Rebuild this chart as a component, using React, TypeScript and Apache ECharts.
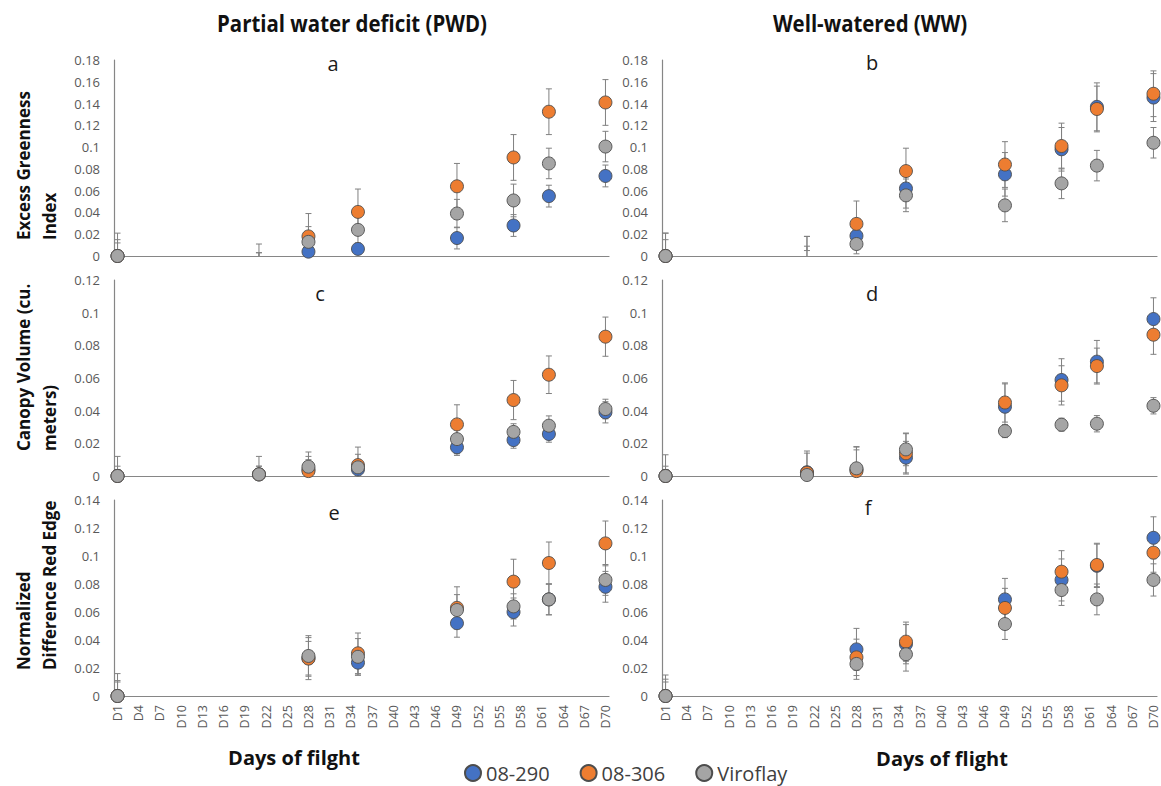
import React, { useEffect, useRef } from "react";
import * as echarts from "echarts";

// ---------- categories / ticks ----------
const dayCategories: string[] = Array.from({ length: 70 }, (_, i) => `D${i + 1}`);
const sampleDays = ["D1", "D21", "D28", "D35", "D49", "D57", "D62", "D70"];
const seriesNames = ["08-290", "08-306", "Viroflay"];
const seriesColors = ["#4472C4", "#ED7D31", "#A5A5A5"];

// ---------- panel a : PWD, Excess Greenness Index ----------
const aBlue = [0, 0.001, 0.004, 0.0065, 0.0165, 0.028, 0.055, 0.0735];
const aOrange = [0, 0.001, 0.018, 0.0405, 0.064, 0.0905, 0.1325, 0.141];
const aGray = [0, 0.001, 0.013, 0.024, 0.039, 0.051, 0.085, 0.1005];
const aBlueErr = [0.012, 0.002, 0.004, 0.005, 0.01, 0.01, 0.01, 0.01];
const aOrangeErr = [0.015, 0.002, 0.021, 0.021, 0.021, 0.021, 0.021, 0.021];
const aGrayErr = [0.021, 0.01, 0.014, 0.012, 0.013, 0.015, 0.014, 0.014];

// ---------- panel b : WW, Excess Greenness Index ----------
const bBlue = [0, 0.007, 0.0185, 0.062, 0.075, 0.098, 0.137, 0.1455];
const bOrange = [0, 0.007, 0.0295, 0.078, 0.084, 0.101, 0.135, 0.149];
const bGray = [0, 0.007, 0.011, 0.0557, 0.0465, 0.0667, 0.083, 0.104];
const bBlueErr = [0.015, 0.011, 0.012, 0.018, 0.02, 0.02, 0.022, 0.022];
const bOrangeErr = [0.021, 0.011, 0.021, 0.021, 0.021, 0.021, 0.021, 0.021];
const bGrayErr = [0.021, 0.002, 0.009, 0.015, 0.015, 0.014, 0.014, 0.014];

// ---------- panel c : PWD, Canopy Volume ----------
const cBlue = [0, 0.001, 0.004, 0.004, 0.0176, 0.022, 0.0257, 0.039];
const cOrange = [0, 0.001, 0.003, 0.0067, 0.0316, 0.0465, 0.062, 0.0853];
const cGray = [0, 0.001, 0.0057, 0.0053, 0.0226, 0.027, 0.0308, 0.041];
const cBlueErr = [0.012, 0.005, 0.006, 0.006, 0.005, 0.005, 0.005, 0.0065];
const cOrangeErr = [0.006, 0.005, 0.009, 0.011, 0.012, 0.012, 0.0115, 0.012];
const cGrayErr = [0.004, 0.011, 0.009, 0.008, 0.009, 0.005, 0.006, 0.006];

// ---------- panel d : WW, Canopy Volume ----------
const dBlue = [0, 0.0023, 0.004, 0.0112, 0.0424, 0.0588, 0.07, 0.0961];
const dOrange = [0, 0.002, 0.003, 0.0139, 0.045, 0.0555, 0.0673, 0.0865];
const dGray = [0, 0.0006, 0.0047, 0.0163, 0.0275, 0.0314, 0.032, 0.043];
const dBlueErr = [0.013, 0.013, 0.012, 0.01, 0.014, 0.013, 0.013, 0.013];
const dOrangeErr = [0.006, 0.012, 0.015, 0.012, 0.012, 0.012, 0.011, 0.012];
const dGrayErr = [0.004, 0.005, 0.013, 0.01, 0.004, 0.004, 0.005, 0.005];

// ---------- panel e : PWD, NDRE ----------
const eBlue = [0, null, 0.027, 0.0238, 0.052, 0.06, 0.069, 0.078];
const eOrange = [0, null, 0.0267, 0.0305, 0.063, 0.0817, 0.095, 0.109];
const eGray = [0, null, 0.0286, 0.028, 0.0614, 0.064, 0.069, 0.0829];
const eBlueErr = [0.016, null, 0.012, 0.009, 0.01, 0.01, 0.011, 0.011];
const eOrangeErr = [0.01, null, 0.015, 0.0145, 0.015, 0.016, 0.015, 0.016];
const eGrayErr = [0.011, null, 0.0145, 0.013, 0.011, 0.009, 0.011, 0.011];

// ---------- panel f : WW, NDRE ----------
const fBlue = [0, null, 0.0333, 0.037, 0.069, 0.0829, 0.093, 0.113];
const fOrange = [0, null, 0.0276, 0.0388, 0.0629, 0.0888, 0.0936, 0.1024];
const fGray = [0, null, 0.0229, 0.0298, 0.0514, 0.0757, 0.069, 0.0829];
const fBlueErr = [0.015, null, 0.015, 0.014, 0.015, 0.015, 0.0155, 0.015];
const fOrangeErr = [0.012, null, 0.013, 0.014, 0.014, 0.015, 0.0155, 0.014];
const fGrayErr = [0.01, null, 0.011, 0.012, 0.011, 0.011, 0.011, 0.0115];

const yMaxByRow = [0.18, 0.12, 0.14];
const panelLetters = ["a", "b", "c", "d", "e", "f"];
const hiddenMarkerDays: string[][] = [["D21"], ["D21"], [], [], [], []];

const panelValues = [
  [aBlue, aOrange, aGray],
  [bBlue, bOrange, bGray],
  [cBlue, cOrange, cGray],
  [dBlue, dOrange, dGray],
  [eBlue, eOrange, eGray],
  [fBlue, fOrange, fGray],
];
const panelErrors = [
  [aBlueErr, aOrangeErr, aGrayErr],
  [bBlueErr, bOrangeErr, bGrayErr],
  [cBlueErr, cOrangeErr, cGrayErr],
  [dBlueErr, dOrangeErr, dGrayErr],
  [eBlueErr, eOrangeErr, eGrayErr],
  [fBlueErr, fOrangeErr, fGrayErr],
];

// ---------- layout ----------
const rowTops = [60, 280, 500];
const rowHeight = 196;
const colLefts = [114, 662];
const colWidth = 495;
const FONT = "'Open Sans', 'Noto Sans', sans-serif";

export default function App() {
  const ref = useRef<HTMLDivElement>(null);

  useEffect(() => {
    if (!ref.current) return;
    const chart = echarts.init(ref.current, null, { renderer: "svg" });

    const grids: any[] = [];
    const xAxes: any[] = [];
    const yAxes: any[] = [];
    const series: any[] = [];

    for (let p = 0; p < 6; p++) {
      const row = Math.floor(p / 2);
      const col = p % 2;
      const isBottom = row === 2;
      grids.push({
        left: colLefts[col],
        top: rowTops[row],
        width: colWidth,
        height: rowHeight,
        containLabel: false,
      });
      xAxes.push({
        gridIndex: p,
        type: "category",
        data: dayCategories,
        boundaryGap: true,
        axisTick: { show: false },
        axisLine: { show: true, lineStyle: { color: "#868686", width: 1.2 } },
        splitLine: { show: false },
        axisLabel: {
          show: isBottom,
          interval: 2,
          rotate: 90,
          fontSize: 12.5,
          color: "#595959",
          fontFamily: FONT,
          margin: 9,
        },
      });
      yAxes.push({
        gridIndex: p,
        type: "value",
        min: 0,
        max: yMaxByRow[row],
        interval: 0.02,
        axisLine: { show: true, lineStyle: { color: "#868686", width: 1.2 } },
        axisTick: { show: false },
        splitLine: { show: false },
        axisLabel: {
          fontSize: 13,
          color: "#595959",
          fontFamily: FONT,
          margin: 14,
          formatter: (v: number) => String(+v.toFixed(2)),
        },
      });

      const hidden = hiddenMarkerDays[p];
      for (let s = 0; s < 3; s++) {
        const vals = panelValues[p][s];
        const errs = panelErrors[p][s];
        const errData: any[] = [];
        const ptData: any[] = [];
        sampleDays.forEach((d, j) => {
          const v = vals[j];
          if (v == null) return;
          const idx = dayCategories.indexOf(d);
          const e = errs[j];
          if (e != null) errData.push([idx, v, e]);
          const isHidden = hidden.indexOf(d) >= 0;
          ptData.push({ value: [idx, v], symbolSize: isHidden ? 0 : 13 });
        });
        series.push({
          type: "custom",
          name: seriesNames[s] + " err",
          xAxisIndex: p,
          yAxisIndex: p,
          z: 1,
          clip: true,
          silent: true,
          encode: { x: 0, y: 1 },
          data: errData,
          renderItem: (params: any, api: any) => {
            const x = api.value(0);
            const v = api.value(1);
            const e = api.value(2);
            const hiV = v + e;
            const loV = Math.max(0, v - e);
            const pHi = api.coord([x, hiV]);
            const pLo = api.coord([x, loV]);
            const cap = 3;
            const style = { stroke: "#808080", lineWidth: 1 };
            const children: any[] = [
              { type: "line", shape: { x1: pLo[0], y1: pLo[1], x2: pHi[0], y2: pHi[1] }, style },
              { type: "line", shape: { x1: pHi[0] - cap, y1: pHi[1], x2: pHi[0] + cap, y2: pHi[1] }, style },
            ];
            if (v - e > 0) {
              children.push({
                type: "line",
                shape: { x1: pLo[0] - cap, y1: pLo[1], x2: pLo[0] + cap, y2: pLo[1] },
                style,
              });
            }
            return { type: "group", children };
          },
        });
        series.push({
          type: "scatter",
          name: seriesNames[s],
          xAxisIndex: p,
          yAxisIndex: p,
          z: 2,
          symbol: "circle",
          symbolSize: 13,
          itemStyle: {
            color: seriesColors[s],
            borderColor: "#4d4d4d",
            borderWidth: 0.9,
            opacity: 1,
          },
          emphasis: { disabled: true },
          data: ptData,
        });
      }
    }

    const letterPos = [
      [333, 63],
      [872, 62],
      [320, 293],
      [872, 293],
      [334, 512],
      [868, 507],
    ];

    const yNames = [
      { text: "Excess Greenness\nIndex", bottom: 240 },
      { text: "Canopy Volume (cu.\nmeters)", bottom: 451 },
      { text: "Normalized\nDifference Red Edge", bottom: 670 },
    ];

    const graphics: any[] = [];
    panelLetters.forEach((l, i) => {
      graphics.push({
        type: "text",
        x: letterPos[i][0],
        y: letterPos[i][1],
        style: {
          text: l,
          font: `20px ${FONT}`,
          fill: "#1a1a1a",
          align: "center",
          verticalAlign: "middle",
        },
      });
    });
    yNames.forEach((n) => {
      graphics.push({
        type: "text",
        x: 10,
        y: n.bottom,
        rotation: Math.PI / 2,
        style: {
          text: n.text,
          font: `bold 17px ${FONT}`,
          fill: "#111",
          align: "left",
          verticalAlign: "top",
          lineHeight: 26,
        },
      });
    });
    graphics.push(
      {
        type: "text",
        x: 352,
        y: 23,
        scaleX: 0.85,
        style: {
          text: "Partial water deficit (PWD)",
          font: `bold 24px ${FONT}`,
          fill: "#111",
          align: "center",
          verticalAlign: "middle",
        },
      },
      {
        type: "text",
        x: 870,
        y: 23,
        scaleX: 0.85,
        style: {
          text: "Well-watered (WW)",
          font: `bold 24px ${FONT}`,
          fill: "#111",
          align: "center",
          verticalAlign: "middle",
        },
      },
      {
        type: "text",
        x: 294,
        y: 757,
        style: {
          text: "Days of filght",
          font: `bold 20px ${FONT}`,
          fill: "#111",
          align: "center",
          verticalAlign: "middle",
        },
      },
      {
        type: "text",
        x: 942,
        y: 758,
        style: {
          text: "Days of flight",
          font: `bold 20px ${FONT}`,
          fill: "#111",
          align: "center",
          verticalAlign: "middle",
        },
      }
    );

    chart.setOption({
      animation: false,
      backgroundColor: "#ffffff",
      grid: grids,
      xAxis: xAxes,
      yAxis: yAxes,
      series,
      legend: {
        data: seriesNames,
        left: 464,
        top: 763,
        padding: 0,
        icon: "circle",
        itemWidth: 16,
        itemHeight: 16,
        itemGap: 30,
        selectedMode: false,
        textStyle: { fontSize: 20, lineHeight: 20, color: "#404040", fontFamily: FONT },
      },
      graphic: graphics,
    });

    return () => chart.dispose();
  }, []);

  return (
    <div
      ref={ref}
      style={{ position: "absolute", left: 0, top: 0, width: 1161, height: 786, background: "#fff" }}
    />
  );
}
